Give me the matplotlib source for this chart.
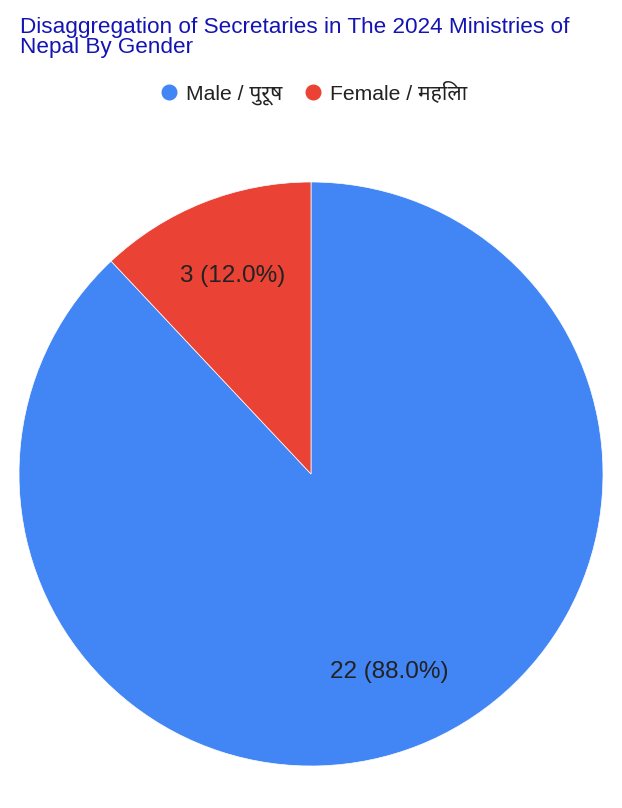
import matplotlib
matplotlib.use("Agg")
import matplotlib.pyplot as plt
from matplotlib.lines import Line2D

labels = ["Male / पुरूष", "Female / महिला"]
counts = [22, 3]
colors = ["#4285f4", "#ea4335"]
title = "Disaggregation of Secretaries in The 2024 Ministries of\nNepal By Gender"

plt.rcParams['font.family'] = ['Liberation Sans', 'Noto Sans', 'DejaVu Sans']

fig = plt.figure(figsize=(6.22, 8.08), dpi=100)
W, H = 622, 808

# pie area: centre (311, 474), radius 292 px
r = 292
ax = fig.add_axes([(311 - r) / W, 1 - (474 + r) / H, 2 * r / W, 2 * r / H])
total = sum(counts)
wedges, texts = ax.pie(counts, colors=colors, startangle=90, counterclock=False,
                       wedgeprops=dict(linewidth=0.5, edgecolor="white"),
                       labels=[f"{c} ({c / total * 100:.1f}%)" for c in counts],
                       labeldistance=0.73, textprops=dict(fontsize=17.5, color="#222222"))
for t in texts:
    t.set_ha("center")
    t.set_va("center")
ax.set_xlim(-1, 1)
ax.set_ylim(-1, 1)
ax.set_aspect("equal")

fig.text(20 / W, 1 - 17 / H, title, ha="left", va="top", fontsize=16.2,
         color="#1414b4", linespacing=0.95)

handles = [Line2D([0], [0], marker="o", linestyle="", markersize=10.5,
                  markerfacecolor=c, markeredgecolor=c) for c in colors]
fig.legend(handles, labels, loc="center", bbox_to_anchor=(313 / W, 1 - 93 / H),
           ncol=2, frameon=False, fontsize=15.2, handletextpad=0.35,
           handlelength=0.9, columnspacing=1.0, labelcolor="#222222")

fig.savefig("out.png", dpi=100)
